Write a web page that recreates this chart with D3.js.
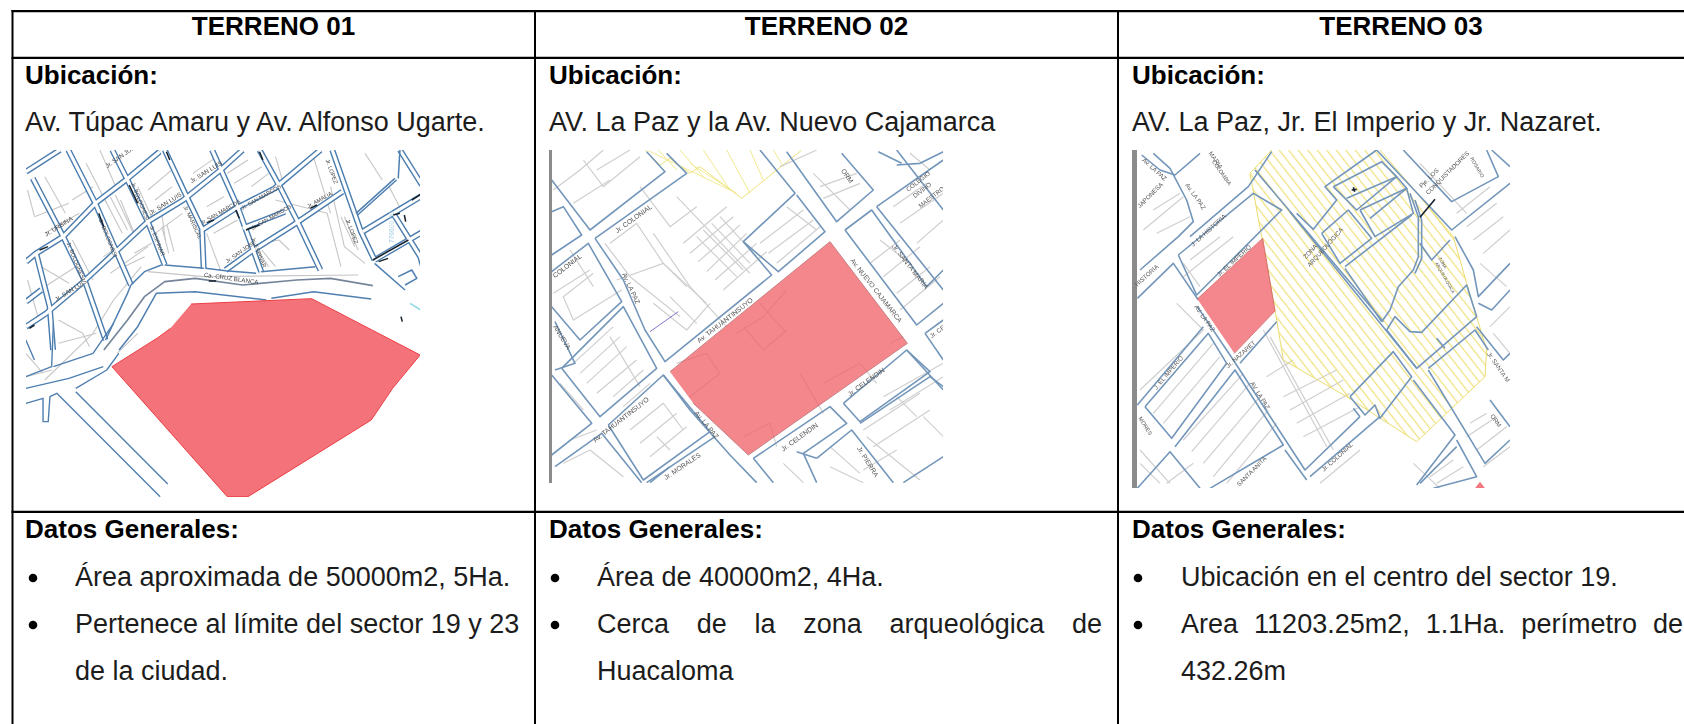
<!DOCTYPE html>
<html><head><meta charset="utf-8">
<style>html,body{margin:0;padding:0;background:#fff;overflow:hidden}svg{display:block}text{font-family:"Liberation Sans",Arial,sans-serif;fill:#1c1c1c}</style>
<script src="https://cdn.jsdelivr.net/npm/d3@7"></script></head><body><svg id="c" width="1684" height="724"></svg>
<script>
// ---------- table text ----------
const headers=["TERRENO 01","TERRENO 02","TERRENO 03"];
const locations=["Av. Túpac Amaru y Av. Alfonso Ugarte.","AV. La Paz y la Av. Nuevo Cajamarca","AV. La Paz, Jr. El Imperio y Jr. Nazaret."];
const bullets1=[["Área aproximada de 50000m2, 5Ha.",0],["Pertenece al límite del sector 19 y 23",1],["de la ciudad.",2]];
const bullets2=[["Área de 40000m2, 4Ha.",0],["Cerca de la zona arqueológica de",1],["Huacaloma",2]];
const bullets3=[["Ubicación en el centro del sector 19.",0],["Area 11203.25m2, 1.1Ha. perímetro de",1],["432.26m",2]];
// ---------- map 1 (traced coordinates) ----------
const map1Poly=[[555,912],[905,896],[1220,1065],[1140,1165],[1078,1260],[720,1490],[660,1490],[325,1100],[460,1012],[495,985]];
const map1Lower=[
[[75,1210],[125,1195],[125,1265],[140,1265],[145,1190],[165,1180],[465,1490]],[[220,1175],[487,1452]],[[220,1165],[310,1110],[345,1060]],[[155,1100],[270,1060],[330,970]],[[75,1020],[100,1080]],[[75,1165],[200,1135],[300,1100]],[[155,970],[150,1100],[75,1130]]];
const map1Gray=[
[[210,720],[270,840]],[[130,700],[230,640]],[[100,650],[200,610]],[[300,770],[400,700]],[[320,820],[430,740]],[[350,600],[390,700]],[[320,590],[370,690]],[[335,585],[385,695]],[[305,600],[355,700]],
[[400,560],[440,650]],[[450,600],[500,560]],[[430,570],[510,500]],[[470,640],[480,720]],[[450,700],[530,640]],[[470,680],[490,760]],[[485,675],[505,755]],[[600,620],[650,590]],[[620,700],[690,660]],
[[560,520],[630,470]],[[660,520],[720,480]],[[730,560],[780,520]],[[680,550],[760,500]],[[800,600],[950,640],[990,800]],[[960,560],[1000,740],[1060,790]],[[990,650],[1030,740]],[[1000,650],[1040,750]],
[[600,700],[640,810]],[[170,960],[240,1000],[260,1040]],[[170,1030],[280,1000]],[[250,490],[310,610]],[[210,600],[270,560]],[[290,450],[340,570]],[[130,1140],[270,1000],[330,900],[410,800]],
[[400,1000],[340,1060]],[[430,815],[590,830],[1040,825]],[[760,730],[810,720],[840,750]],[[800,470],[820,540]],[[910,470],[960,640]],[[130,530],[190,640]],[[80,570],[100,650]],[[120,800],[200,850]],[[130,860],[220,800]],
[[80,840],[110,950]],[[390,760],[440,730]],[[360,800],[420,770]],[[740,740],[780,800]],[[760,750],[800,800]],[[1130,560],[1160,620]],[[1060,460],[1110,540]],[[975,470],[1030,620]],[[75,1130],[150,1110]],[[75,1060],[125,1120]]];
const map1Streets=[
[[125,0],[205,160],[265,300],[310,405]],[[20,85],[110,260],[175,395],[235,570]],[[255,0],[300,90],[360,215],[410,345]],[[410,0],[470,130],[520,235],[525,355]],
[[550,0],[625,170],[695,365]],[[690,0],[750,110],[800,210],[870,360]],[[905,0],[990,245],[1030,330]],[[1105,0],[1170,105]],[[1085,190],[1165,320],[1182,380]],[[30,310],[70,470],[80,600]],
[[0,65],[100,0]],[[0,335],[30,310],[110,260],[205,160],[295,90],[395,5]],[[0,530],[60,490],[170,395],[260,310],[360,215],[465,150],[575,60],[640,0]],[[0,455],[45,420]],
[[520,240],[620,175],[735,115],[870,0]],[[640,235],[765,185]],[[590,360],[665,305],[790,225],[935,125]],[[995,245],[1182,130]],[[1030,330],[1182,240]]];
const map1Edges=[[[975,190],[1090,85]],[[980,195],[1095,90]],[[410,345],[525,355]],[[530,355],[590,362],[680,370]],[[695,365],[855,350]],[[310,405],[350,365],[400,345]],[[235,570],[300,430],[310,405]],
[[275,600],[330,530],[385,430],[500,425],[710,450]],[[725,445],[850,425],[1020,447]],[[1030,340],[1120,420]],[[1100,380],[1140,360],[1155,385],[1120,405]],[[1105,0],[1100,85]]];
const map1Road=[[[230,600],[300,510],[350,440],[410,395],[500,385],[640,405],[800,390],[900,385],[1025,407]]];
const map1Cyan=[[[1135,460],[1182,490]]];
const map1Ink=[[[305,105],[330,160]],[[620,180],[630,205]],[[415,5],[425,30]],[[690,5],[700,30]],[[540,393],[562,393]],[[1042,335],[1070,325]],[[1085,195],[1105,190]],[[1118,195],[1122,215]],[[1140,150],[1180,125]],[[1108,500],[1112,515]],[[40,300],[65,290]],[[10,535],[25,525]],[[215,190],[230,230]],[[1025,330],[1130,270]],[[650,240],[690,225]],[[535,218],[555,210]],[[840,175],[860,165]]];
const map1Labels=[["Ca. CRUZ BLANCA",525,380,8,10],["Jr. SAN LUIS",490,100,-32,10],["Jr. SAN LUIS",370,195,-32,10],["Jr. SAN LUIS",90,455,-32,10],["Jr. SAN MARCOS",520,225,-30,9],["Jr. SAN MARCOS",640,180,-30,9],["Jr. SAN MARCOS",670,240,-30,9],["Jr. AMALIA",835,175,-30,9],["Jr. SAN JOSE",595,340,-35,9],["Jr. URBINA",60,260,-32,10],["Jr. SAN JUAN",240,55,-35,10],["Jr. BOLOGNESI",215,210,68,9],["Jr. BOLOGNESI",310,100,68,9],["Jr. BOLOGNESI",120,280,68,9],["Jr. MARISCAL",465,170,65,9],["Jr. LOPEZ",885,30,70,9],["Jr. LOPEZ",945,210,70,9],["776600.00",1088,280,-90,11,"#a8cfe8"],["Jr. ESPINAR",365,230,68,9],["Jr. ESPINAR",665,265,68,9]];
// ---------- map 2 ----------
const map2Poly=[[420,725],[900,335],[1132,640],[655,975],[490,820]];
const map2Yellow=[[345,60],[390,105],[420,85],[480,130],[510,110],[635,205],[815,60]];
const map2Hatch=[[[385,60],[440,120]],[[450,60],[520,140]],[[520,60],[600,180]],[[590,60],[660,190]],[[660,60],[700,150]],[[730,60],[760,110]],[[355,62],[600,180]],[[480,100],[620,190]]];
const map2Blue=[
[[65,150],[180,300],[405,125],[350,65]],[[195,325],[470,130],[410,70]],[[195,325],[280,450],[345,600],[405,695],[725,435],[640,335],[795,190],[690,60]],
[[640,335],[745,425],[885,305],[800,195]],[[770,65],[920,275],[1030,180],[935,70]],[[945,300],[1025,240],[1190,470],[1240,420]],[[1040,230],[1240,90]],[[1040,230],[1240,480]],
[[945,300],[1160,585],[1240,520]],[[1185,610],[1240,570]],[[1185,610],[1240,690]],[[1100,105],[1170,100],[1240,65]],[[1045,65],[1115,100]],
[[65,245],[100,230],[155,315],[65,375]],[[65,425],[175,340],[275,515],[150,630],[65,530]],[[75,575],[135,700],[75,720]],[[95,715],[280,530],[380,715],[210,860],[95,715]],
[[65,735],[185,880],[65,975]],[[235,885],[400,735],[540,905],[340,1050],[235,885]],[[75,1010],[215,910],[335,1058]],[[350,1058],[555,920]],[[400,735],[480,840],[600,975],[680,1058]],
[[670,985],[900,830],[950,880],[820,970],[860,1058]],[[670,985],[730,1058]],[[940,820],[1130,660],[1200,725],[990,875],[940,820]],[[860,985],[965,900],[1090,1058]],[[990,880],[1200,740],[1240,770]],
[[1120,1058],[1240,980]],[[1130,660],[1240,780]],[[1100,60],[1240,240]],[[800,965],[860,985]],[[360,1058],[420,1010]]];
const map2Gray=[
[[225,340],[300,440],[450,560]],[[260,450],[400,400],[470,470]],[[370,310],[480,470],[590,590]],[[440,200],[660,430]],[[500,320],[620,440]],[[520,300],[640,420]],[[545,280],[660,400]],[[570,260],[680,380]],
[[460,340],[590,230]],[[480,370],[610,260]],[[505,395],[630,285]],[[530,425],[650,310]],[[555,450],[680,340]],[[580,480],[710,365]],[[400,400],[530,520]],[[370,520],[470,600],[540,520]],[[420,500],[500,580]],
[[690,340],[820,240]],[[715,370],[850,270]],[[740,400],[870,290]],[[770,230],[860,300]],[[850,130],[960,240]],[[870,170],[980,130]],[[880,205],[990,160]],
[[1050,330],[1140,400]],[[1020,400],[1110,330]],[[1060,440],[1170,350]],[[1100,490],[1200,410]],[[1110,540],[1230,440]],[[1090,230],[1190,160]],[[1110,280],[1240,190]],[[1160,340],[1240,270]],
[[130,700],[250,590]],[[150,730],[270,620]],[[170,760],[290,650]],[[200,790],[320,690]],[[240,620],[330,770]],[[70,180],[150,120],[220,60]],[[160,90],[220,170],[330,80]],[[200,120],[300,60]],
[[275,480],[130,570],[100,500],[190,430]],[[70,490],[180,420]],
[[620,610],[700,560],[770,480]],[[640,590],[700,660],[770,600]],[[690,520],[770,610]],[[440,700],[530,670],[570,730],[480,800]],[[810,730],[880,850]],[[880,760],[990,700],[1040,760]],[[1080,640],[1120,620]],[[640,920],[720,880],[740,950]],
[[300,900],[400,820],[460,900]],[[330,940],[440,850]],[[360,980],[470,890]],[[380,920],[420,960]],[[100,1000],[180,960],[280,1040]],[[1010,920],[1170,1050]],[[1060,800],[1240,700]],[[1080,840],[1240,740]],[[1100,800],[1160,860]],
[[1000,900],[1170,790]],[[1030,950],[1200,840]],[[900,1010],[1000,1058]],[[900,950],[990,1030]],[[760,1000],[820,1058]],
[[240,340],[320,280],[400,400]],[[330,170],[420,290],[500,230]],[[130,220],[240,150]],[[120,360],[190,470]],[[250,800],[340,720]],[[280,830],[360,760]],[[120,930],[200,900]],[[90,760],[160,840]],[[750,110],[860,60]],[[1140,70],[1200,120]],[[1000,1020],[1100,960]],[[1180,860],[1240,920]]];
const map2Purple=[[[360,605],[445,545]]];
const map2Labels=[["Jr. COLONIAL",262,310,-36,11],["COLONIAL",75,445,-38,11],["Av. LA PAZ",275,432,65,11],["Av. TAHUANTINSUYO",508,640,-38,11],["Av. TAHUANTINSUYO",196,938,-38,11],["ORM",932,122,55,11],["COLEGIO",1135,185,-38,10],["DIVINO",1155,205,-38,10],["MAESTRO",1172,235,-38,10],["Av. NUEVO CAJAMARCA",960,392,52,11],["Jr. SANTA MARIA",1085,350,52,11],["Jr. CELENDIN",960,800,-36,11],["Jr. CELENDIN",760,965,-36,11],["Av. LA PAZ",492,850,50,11],["Jr. MORALES",408,1050,-34,11],["Jr. PIERRA",980,955,58,11],["ANUEVA",68,590,58,11],["Jr. CELENDIN",1205,625,-36,10]];
// ---------- map 3 ----------
const map3Poly=[[232,507],[428,325],[465,543],[343,670]];
const map3Corner=[[1065,1075],[1080,1055],[1095,1075]];
const map3Yellow=[[455,60],[390,130],[425,320],[465,540],[490,690],[680,800],[890,935],[1095,740],[1100,660],[1040,460],[1000,320],[900,200],[780,60]];
const map3Blue=[
[[65,75],[120,120],[165,135],[240,70]],[[100,70],[150,115],[200,210],[220,275],[175,320],[60,420]],[[210,320],[385,170],[455,65]],[[175,375],[400,190],[485,240],[230,495],[175,375]],
[[52,505],[160,400],[235,510]],[[232,530],[340,690],[555,1020],[720,860]],[[52,825],[250,590]],[[75,830],[265,610],[320,700],[155,925],[75,830]],[[165,950],[345,720],[490,945],[270,1075]],
[[52,1075],[150,965],[240,1075]],[[360,700],[470,575]],[[570,1040],[780,860]],[[495,960],[560,1050]],[[405,120],[790,575]],[[510,245],[890,715]],[[530,250],[580,298],[650,210],[615,170],[770,60]],
[[640,170],[785,95],[830,140],[710,240],[640,170]],[[680,205],[830,140],[860,175],[750,265]],[[720,240],[860,175],[880,250],[765,320],[720,240]],[[605,310],[685,240],[755,325],[660,400],[605,310]],
[[675,410],[875,255]],[[675,415],[785,575]],[[870,190],[895,260],[895,380],[880,420],[835,470],[810,540],[785,575]],[[885,210],[905,270],[905,385],[885,430]],[[900,340],[935,390],[990,330]],
[[800,600],[825,560],[870,605],[905,607],[1040,465],[1070,560],[890,715],[800,600]],[[925,715],[1065,600],[1105,660]],[[925,720],[1095,1000],[1170,930]],[[690,800],[820,665],[875,740],[780,865],[765,825],[735,855],[690,800]],
[[880,750],[1005,915],[890,1065]],[[770,60],[995,300],[1170,160]],[[1005,320],[1060,420],[1075,500],[1170,400]],[[1075,520],[1115,540],[1170,480]],[[1070,590],[1150,690],[1170,670]],
[[1110,810],[1170,890]],[[1010,930],[1070,1040],[940,1075]],[[850,60],[995,215],[1135,140],[1100,60]],[[1115,60],[1170,110]],[[700,835],[720,860]],[[950,625],[975,655]],[[900,1060],[1010,950]]];
const map3Gray=[
[[170,520],[250,600],[60,780]],[[100,240],[180,190]],[[70,300],[190,200]],[[110,310],[210,260]],[[190,400],[240,470]],[[190,440],[340,320]],[[210,390],[300,320]],
[[100,850],[280,640]],[[130,880],[300,680]],[[190,930],[370,730]],[[215,965],[390,760]],[[250,1000],[420,800]],[[280,1040],[445,840]],[[320,1060],[470,880]],
[[430,600],[620,950]],[[450,620],[640,960]],[[490,800],[650,720]],[[510,840],[670,750]],[[530,880],[690,790]],[[550,920],[720,830]],[[440,740],[520,690]],
[[900,100],[1040,250]],[[1010,250],[1110,170]],[[1040,290],[1130,220]],[[1060,330],[1150,260]],[[1090,370],[1170,300]],[[1080,400],[1160,470]],[[1120,610],[1170,670]],[[1110,590],[1170,530]],
[[1050,880],[1100,850]],[[1040,920],[1130,860]],[[1070,960],[1160,890]],[[1090,1010],[1170,950]],[[930,1040],[1000,990]],[[950,1060],[1030,1010]],[[880,1000],[960,1075]],[[600,1060],[720,960]],[[60,960],[150,1060]],[[60,1000],[120,1060]],[[140,1060],[220,1000]]];
const map3Ink=[[[900,262],[945,208]],[[695,180],[710,178]],[[700,172],[704,185]]];
const map3Labels=[["Av. LA PAZ",65,92,42,10],["JAPONESA",60,235,-45,10],["Av. LA PAZ",195,165,55,10],["MARIA",265,70,55,10],["COLOMBIA",275,95,55,9],["J. LA HISTORIA",220,350,-42,10],["HISTORIA",52,470,-42,10],["Jr. EL IMPERIO",298,440,-42,10],["ZONA",558,388,-48,10],["ARQUEOLÓGICA",570,412,-48,10],["Pje. LOS",905,175,-45,10],["CONQUISTADORES",925,195,-45,10],["ZONA",955,385,60,7],["ARQUEOLÓGICA",945,400,60,7],["J. EL IMPERIO",110,780,-50,10],["Jr. NAZARET",325,715,-42,10],["AV. LA PAZ",390,760,58,10],["AV. LA PAZ",222,530,55,10],["SANTA ANITA",358,1070,-45,10],["Jr. COLONIAL",612,1025,-42,10],["ORM",1110,858,55,10],["Jr. SANTA M",1100,672,55,10],["ROSARIO",1050,85,60,8],["MORES",55,865,58,9]];

const svg=d3.select("#c");
const defs=svg.append("defs");
defs.append("filter").attr("id","soft").attr("x","-5%").attr("y","-5%").attr("width","110%").attr("height","110%").append("feGaussianBlur").attr("stdDeviation",0.4);
function hatch(id,w,rot){const p=defs.append("pattern").attr("id",id).attr("patternUnits","userSpaceOnUse").attr("width",w).attr("height",w).attr("patternTransform",`rotate(${rot})`);
 p.append("line").attr("x1",0.6).attr("y1",0).attr("x2",0.6).attr("y2",w).attr("stroke","#efe07a").attr("stroke-width",1.2);}
hatch("yh",7.5,-38);

function panel(id,kx,ky,x0,y0,box){
 const x=d3.scaleLinear().domain([0,1]).range([x0,x0+kx]),y=d3.scaleLinear().domain([0,1]).range([y0,y0+ky]);
 const line=d3.line().x(d=>x(d[0])).y(d=>y(d[1]));
 if(d3.select("#"+id).empty()) defs.append("clipPath").attr("id",id).append("rect").attr("x",box[0]).attr("y",box[1]).attr("width",box[2]-box[0]).attr("height",box[3]-box[1]);
 const g=svg.append("g").attr("clip-path",`url(#${id})`).append("g").attr("filter","url(#soft)");
 const draw=(rows,stroke,w,fill,op)=>g.append("g").selectAll("path").data(rows).join("path").attr("d",d=>line(d)).attr("fill",fill||"none").attr("stroke",stroke).attr("stroke-width",w).attr("stroke-linejoin","round").attr("opacity",op||1);
 return {g,draw,x,y};
}
function labels(p,rows,col){p.g.append("g").selectAll("text").data(rows).join("text").attr("transform",d=>`translate(${p.x(d[1])},${p.y(d[2])}) rotate(${d[3]})`).attr("font-size",d=>d[4]*0.62+"px").style("fill",d=>d[5]||col).text(d=>d[0]);}

// map 1: gray parcels and lower part in one traced frame, streets in a second
const box1=[26,150,420,497];
{const p=panel("m1",540/1568,1/3,0,0,box1);
 p.draw(map1Gray,"#c6c6c6",1.1);}
{const q=panel("m1",1/2.955,1/3,26,150,box1);
 q.draw(map1Streets,"#4a7cae",6);
 q.draw(map1Streets,"#ffffff",3.2);
 q.draw(map1Edges,"#4f7fb0",1.5);
 q.draw(map1Road,"#75869a",1.7);
 q.draw(map1Cyan,"#8fd8e4",1.6);
 labels(q,map1Labels,"#444");
 q.draw(map1Ink,"#15202c",1.5);}
{const p=panel("m1",540/1568,1/3,0,0,box1);
 p.draw(map1Lower,"#4f7fb0",1.4);
 p.draw([map1Poly],"#ec3e45",1,"#f4737a");}
// map 2
{const p=panel("m2",1/3,1/3,530,130,[549,150,943,483]);
 p.g.append("rect").attr("x",549).attr("y",150).attr("width",3).attr("height",333).attr("fill","#8b8b8b");
 p.draw(map2Hatch,"#f2e88f",1);
 p.draw([map2Yellow],"#eee27c",1);
 p.draw(map2Gray,"#cfcfcf",1.2);
 p.draw(map2Blue,"#7396ba",1.6);
 p.draw(map2Purple,"#7f78c8",1);
 labels(p,map2Labels,"#555");
 p.draw([map2Poly],"#b8565c",1,"#f0626a",0.76);}
// map 3
{const p=panel("m3",1/3,1/3,1120,130,[1132,150,1510,488]);
 p.g.append("rect").attr("x",1132).attr("y",150).attr("width",5).attr("height",338).attr("fill","#8b8b8b");
 p.draw(map3Gray,"#cfcfcf",1.2);
 p.draw([map3Yellow],"#ebdc6e",1,"url(#yh)");
 p.draw(map3Blue,"#7396ba",1.6);
 labels(p,map3Labels,"#555");
 p.draw(map3Ink,"#15202c",1.6);
 p.draw([map3Poly],"#cf5a60",1,"#f26a72",0.8);
 p.draw([map3Corner],"none",0,"#f26a72",0.9);}

// table rules
const xRules=[12.5,535,1118], yRules=[11.2,57.9,511.8];
const rules=svg.append("g").attr("stroke","#000");
rules.selectAll("line.v").data(xRules).join("line").attr("class","v").attr("stroke-width",2).attr("x1",d=>d).attr("x2",d=>d).attr("y1",10).attr("y2",724);
rules.selectAll("line.h").data(yRules).join("line").attr("class","h").attr("stroke-width",2.3).attr("x1",11.5).attr("x2",1684).attr("y1",d=>d).attr("y2",d=>d);

// text
const colMid=[273.5,826.5,1401], colLeft=[25,549,1132], bulletX=[33,555,1138], textX=[75,597,1181];
const fsBold=26, fsText=27;
const t=svg.append("g");
const bold=(x,y,s,anchor)=>t.append("text").attr("x",x).attr("y",y).attr("font-size",fsBold+"px").attr("font-weight","700").attr("text-anchor",anchor||"start").style("fill","#000").text(s);
const reg=(x,y,s)=>t.append("text").attr("x",x).attr("y",y).attr("font-size",fsText+"px").text(s);
headers.forEach((h,i)=>bold(colMid[i],35,h,"middle"));
colLeft.forEach((x,i)=>{bold(x,84,"Ubicación:");reg(x,131,locations[i]);bold(x,538,"Datos Generales:");});
const rowY=[586,633,680], justify=[null,1102,1683];
[bullets1,bullets2,bullets3].forEach((rows,i)=>rows.forEach(([s,r])=>{
 if(r<2) t.append("circle").attr("cx",bulletX[i]).attr("cy",rowY[r]-8).attr("r",4.3).attr("fill","#000");
 const el=reg(textX[i],rowY[r],s);
 if(r===1&&justify[i]){const n=s.split(" ").length-1,l=el.node().getComputedTextLength();el.style("word-spacing",((justify[i]-textX[i]-l)/n)+"px");}
}));
</script></body></html>
